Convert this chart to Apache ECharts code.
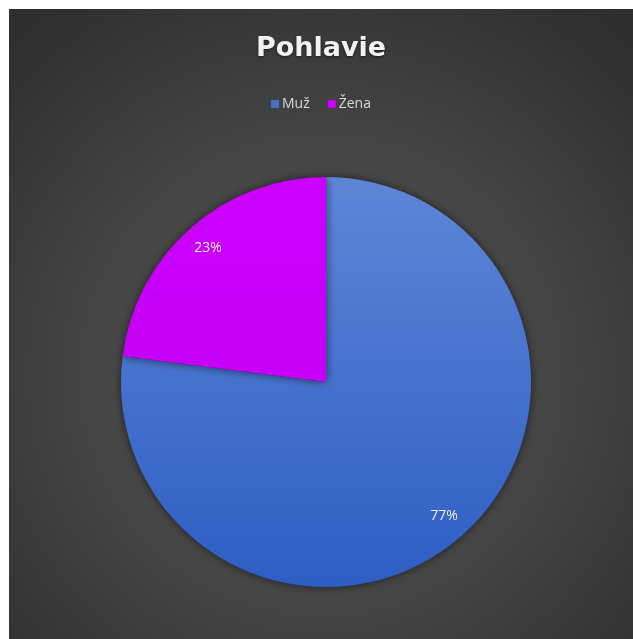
<!DOCTYPE html>
<html><head><meta charset="utf-8">
<script src="https://cdn.jsdelivr.net/npm/echarts@6/dist/echarts.min.js"></script>
<style>html,body{margin:0;padding:0;background:#fff;width:633px;height:639px;overflow:hidden}
#c{position:absolute;left:9px;top:9px;width:624px;height:630px}</style>
</head><body><div id="c"></div>
<script>
const titleText = 'Pohlavie';
const categories = ['Muž', 'Žena'];
const values = [77, 23];
const colors = [
  {type:'linear',x:0,y:0,x2:0,y2:1,colorStops:[{offset:0,color:'#5d86d6'},{offset:1,color:'#2e5ec5'}]},
  {type:'linear',x:0,y:0,x2:0,y2:1,colorStops:[{offset:0,color:'#cc00ff'},{offset:1,color:'#c400f5'}]}
];
const legendColors = ['#4472c4', '#cc00ff'];
const chart = echarts.init(document.getElementById('c'));
const data = categories.map((n,i)=>({name:n, value:values[i], itemStyle:{color:colors[i]}}));
chart.setOption({
  backgroundColor:{type:'radial',x:0.5,y:0.58,r:0.75,colorStops:[{offset:0,color:'#5c5c5c'},{offset:1,color:'#2d2d2d'}]},
  color: legendColors,
  title:{text:titleText,left:'center',top:21,textStyle:{color:'#f2f2f2',fontFamily:'DejaVu Sans',fontWeight:'bold',fontSize:27,textShadowColor:'rgba(0,0,0,0.6)',textShadowBlur:3,textShadowOffsetY:1}},
  legend:{top:83,left:'center',itemWidth:8,itemHeight:8,itemGap:18,icon:'rect',
    textStyle:{color:'#d9d9d9',fontFamily:'Open Sans',fontSize:14,padding:[0,0,0,-2]},
    data:categories.map((n,i)=>({name:n,itemStyle:{color:legendColors[i]}}))},
  series:[
    {type:'pie',radius:[0,205],center:[317,373],startAngle:90,clockwise:true,
     label:{show:false},labelLine:{show:false},silent:true,
     itemStyle:{shadowBlur:10,shadowColor:'rgba(0,0,0,0.6)'},
     data:data},
    {type:'pie',radius:[146,205],center:[317,373],startAngle:90,clockwise:true,silent:true,
     itemStyle:{color:'transparent'},
     label:{show:true,position:'inside',formatter:'{d}%',color:'#f0f0f0',fontFamily:'Open Sans',fontSize:14},
     labelLine:{show:false},
     data:categories.map((n,i)=>({name:n,value:values[i]}))}
  ]
});
</script></body></html>
